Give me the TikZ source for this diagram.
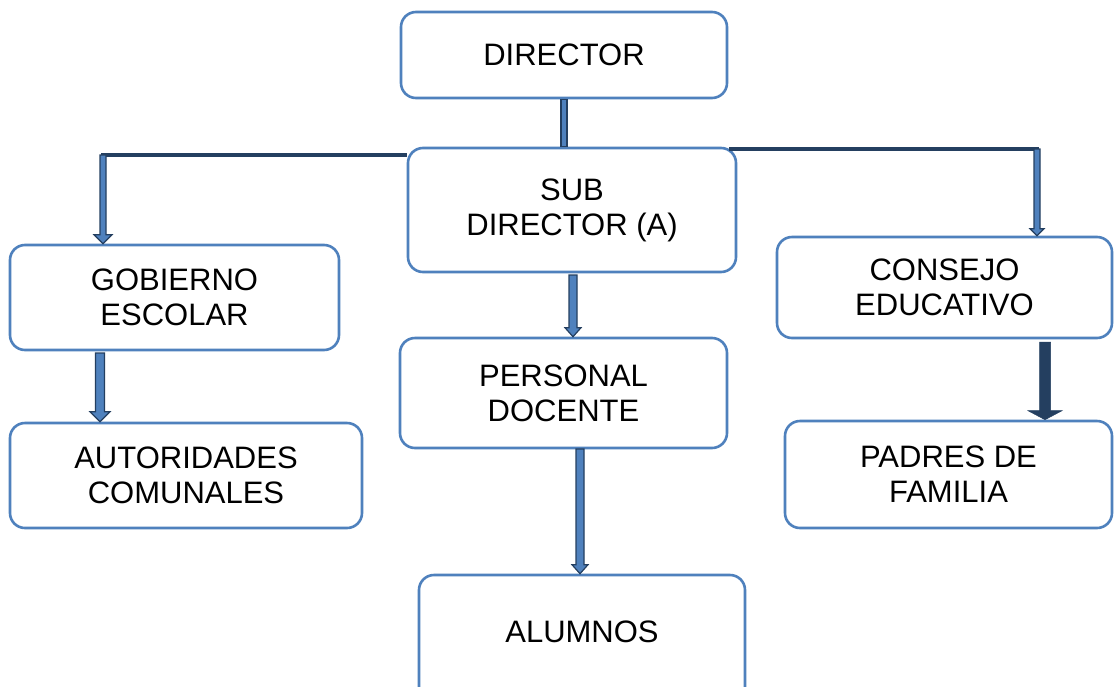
\documentclass[tikz,border=0pt]{standalone}
\usepackage{fontspec}
\setmainfont{Liberation Sans}
\usetikzlibrary{calc}
\definecolor{boxblue}{HTML}{4F81BD}
\definecolor{darkblue}{HTML}{243F60}
\tikzset{
  orgbox/.style={draw=boxblue, line width=2.6pt, rounded corners=15pt, fill=white,
    inner sep=0pt, align=center, font=\fontsize{31}{35}\selectfont},
  darkline/.style={draw=darkblue, line width=4.5pt},
  blockarrow/.style={fill=boxblue, draw=darkblue, line width=1.2pt, line join=miter},
  solidarrow/.style={fill=darkblue, draw=darkblue, line width=0.5pt}
}
% #1 style, #2 start, #3 end, #4 shaft half width, #5 head half width, #6 head length
\newcommand{\blockdown}[6]{%
  \path let \p1=(#2), \p2=(#3) in [#1]
    (\x1-#4,\y1) -- (\x1+#4,\y1) -- (\x1+#4,\y2+#6) -- (\x1+#5,\y2+#6) --
    (\x1,\y2) -- (\x1-#5,\y2+#6) -- (\x1-#4,\y2+#6) -- cycle;}
\begin{document}
\begin{tikzpicture}[x=1pt,y=-1pt]
\clip (0,0) rectangle (1114,686);
\fill[white] (0,0) rectangle (1114,686);

\node[orgbox, minimum width=326pt, minimum height=86pt] (dir) at (564,55) {DIRECTOR};
\node[orgbox, minimum width=328pt, minimum height=124pt] (sub) at (572,210) {SUB\\DIRECTOR (A)};
\node[orgbox, minimum width=329pt, minimum height=105pt] (gob) at (174.5,297.5) {GOBIERNO\\ESCOLAR};
\node[orgbox, minimum width=335pt, minimum height=101pt] (con) at (944.5,287.5) {CONSEJO\\EDUCATIVO};
\node[orgbox, minimum width=327pt, minimum height=110pt] (per) at (563.5,393) {PERSONAL\\DOCENTE};
\node[orgbox, minimum width=352pt, minimum height=105pt] (aut) at (186,475.5) {AUTORIDADES\\COMUNALES};
\node[orgbox, minimum width=327pt, minimum height=107pt] (pad) at (948.5,474.5) {PADRES DE\\FAMILIA};
\node[orgbox, minimum width=326pt, minimum height=130pt] (alu) at (582,640) {};
\node[font=\fontsize{31}{35}\selectfont] (alut) at (582,632) {ALUMNOS};

% Director -> Sub director
\path[blockarrow] let \p1=(dir.south), \p2=(sub.north) in
  (\x1-3,\y1) rectangle (\x1+3,\y2);

% left branch
\coordinate (lj) at (103,155);
\draw[darkline] (lj -| sub.west) -- ([xshift=-2.25pt]lj);
\blockdown{blockarrow}{lj}{gob.north -| lj}{3}{9}{9}

% right branch
\coordinate (rj) at (1037,149);
\draw[darkline] ([xshift=-8pt]rj -| sub.east) -- ([xshift=2.25pt]rj);
\blockdown{blockarrow}{rj}{con.north -| rj}{3}{7}{7}

% Sub -> Personal
\coordinate (sp) at (573,275);
\blockdown{blockarrow}{sp}{per.north -| sp}{4}{8}{9}

% Gobierno -> Autoridades
\coordinate (ga) at (100,353);
\blockdown{blockarrow}{ga}{aut.north -| ga}{4.5}{10}{10}

% Personal -> Alumnos
\coordinate (pa) at (580,449);
\blockdown{blockarrow}{pa}{alu.north -| pa}{4}{8}{9}

% Consejo -> Padres
\coordinate (cp) at (1045,342);
\blockdown{solidarrow}{cp}{pad.north -| cp}{5.5}{17}{9}
\end{tikzpicture}
\end{document}
